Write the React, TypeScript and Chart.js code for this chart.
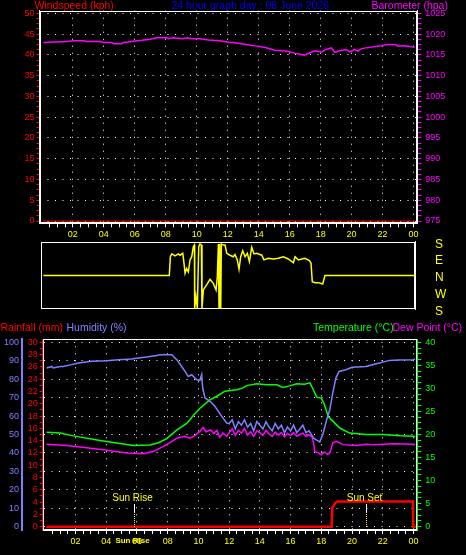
import React, { useEffect, useRef } from 'react';
import { Chart, registerables } from 'chart.js';

Chart.register(...registerables);

// ---------- data ----------
const hourLabels = ['02', '04', '06', '08', '10', '12', '14', '16', '18', '20', '22', '00'];
const compassLabels = ['S', 'W', 'N', 'E', 'S'];

const windHours = [0.1, 24.07];
const windSpeed = [0, 0];

const baroHours = [0.1, 0.85, 1.61, 2.03, 2.68, 2.9, 3.76, 3.97, 4.51, 4.62, 5.16, 5.26, 5.58, 5.91, 6.45, 6.99, 7.42, 8.06, 8.17, 8.49, 9.13, 9.35, 9.68, 10.21, 10.75, 11.5, 12.15, 12.34, 12.99, 13.85, 14.49, 15.04, 15.78, 16.43, 16.97, 17.3, 17.62, 18.07, 18.37, 18.69, 18.91, 19.23, 19.66, 19.88, 20.2, 20.41, 20.63, 21.17, 21.94, 22.27, 22.8, 23.02, 23.34, 23.77, 24.07];
const baroValues = [1018.0, 1018.1, 1018.2, 1018.4, 1018.4, 1018.2, 1018.2, 1018.0, 1018.0, 1017.7, 1017.7, 1018.0, 1018.1, 1018.3, 1018.5, 1018.75, 1019.1, 1019.2, 1018.9, 1019.1, 1018.9, 1019.1, 1018.9, 1018.9, 1018.6, 1018.4, 1018.0, 1018.0, 1017.6, 1017.1, 1016.7, 1016.1, 1015.9, 1015.3, 1014.9, 1015.5, 1016.0, 1015.7, 1016.3, 1016.7, 1015.6, 1016.0, 1016.3, 1015.7, 1016.3, 1015.9, 1016.5, 1016.8, 1017.2, 1017.5, 1017.5, 1017.1, 1017.2, 1017.0, 1016.8];

// wind direction in signed degrees (0 = N, 90 = E, +/-180 = S, -90 = W)
const dirHours = [0.1, 8.23, 8.3, 8.39, 8.6, 8.81, 8.92, 9.1, 9.18, 9.25, 9.35, 9.46, 9.57, 9.68, 9.78, 9.85, 9.87, 9.95, 10.04, 10.13, 10.21, 10.3, 10.34, 10.43, 10.64, 10.86, 11.07, 11.25, 11.33, 11.4, 11.44, 11.48, 11.55, 11.59, 11.72, 11.83, 11.94, 12.15, 12.36, 12.47, 12.62, 12.73, 12.84, 12.97, 13.12, 13.27, 13.4, 13.55, 13.7, 13.87, 14.2, 14.34, 14.62, 14.95, 15.27, 15.59, 15.91, 16.24, 16.35, 16.56, 16.78, 16.99, 17.27, 17.38, 17.46, 17.64, 17.85, 18.13, 18.28, 24.09];
const dirDegrees = [0, 0, 100, 115, 105, 115, 108, 118, 65, 12, 38, 20, 83, 100, 153, 162, -175, -113, -175, 153, 168, 162, -175, -77, -50, -20, -42, -77, -6, 168, -175, 168, -175, 168, 162, 162, 118, 108, 100, 112, 83, 33, 100, 132, 100, 118, 74, 150, 115, 118, 108, 83, 92, 88, 92, 100, 88, 68, 100, 83, 88, 92, 80, 65, -33, -38, -38, -45, 0, 0];

const humHours = [0.12, 0.45, 0.55, 0.99, 1.2, 1.75, 2.18, 3.05, 4.03, 4.79, 5.66, 5.98, 6.63, 7.28, 7.5, 8.26, 8.59, 8.91, 9.13, 9.34, 9.56, 9.89, 10.1, 10.21, 10.28, 10.43, 10.76, 11.08, 11.3, 11.52, 11.84, 12.0, 12.2, 12.4, 12.6, 12.8, 13.0, 13.2, 13.4, 13.6, 13.8, 14.0, 14.2, 14.4, 14.6, 14.8, 15.0, 15.2, 15.4, 15.6, 15.8, 16.0, 16.2, 16.4, 16.6, 16.8, 17.0, 17.2, 17.5, 17.7, 17.9, 18.1, 18.35, 18.55, 18.75, 18.95, 19.15, 19.6, 20.0, 20.9, 21.6, 22.45, 23.0, 24.0, 24.1];
const humValues = [86.1, 86.9, 86.1, 86.9, 86.9, 87.9, 88.8, 89.7, 90.0, 90.6, 91.0, 91.3, 92.0, 92.9, 93.3, 93.3, 90.6, 86.9, 84.2, 81.5, 82.4, 79.7, 79.4, 82.4, 75.2, 69.8, 68.0, 65.2, 62.5, 59.8, 56.2, 56, 58, 53, 57, 55, 58, 54, 56, 52, 57, 55, 53, 57, 54, 52, 56, 53, 55, 51, 54, 52, 55, 51, 53, 55, 51, 52, 48, 47, 46, 50, 58, 63.4, 72.7, 80.6, 84.2, 85.1, 86.5, 86.9, 88.4, 90.2, 90.4, 90.6, 91.0];

const tempHours = [0.12, 1.0, 1.85, 3.6, 5.76, 6.85, 7.4, 7.94, 8.6, 9.24, 9.67, 10.1, 10.75, 11.19, 11.73, 12.5, 12.9, 13.15, 13.8, 14.44, 15.1, 15.5, 16.0, 16.4, 16.9, 17.26, 17.48, 17.7, 18.0, 18.2, 18.45, 18.75, 19.2, 19.85, 20.93, 22.0, 23.1, 24.0, 24.1];
const tempValues = [20.5, 20.3, 19.7, 18.7, 17.6, 17.7, 18.2, 19.1, 21.0, 22.4, 24.1, 25.7, 27.5, 28.3, 29.4, 29.7, 30.1, 30.6, 31.0, 30.8, 30.8, 30.2, 30.6, 31.0, 30.9, 31.2, 29.7, 28.1, 27.9, 26.5, 23.9, 22.9, 21.4, 20.3, 20.0, 20.0, 19.7, 19.6, 19.5];

const dewHours = [0.12, 1.42, 2.72, 4.03, 5.33, 6.41, 7.06, 7.94, 8.6, 9.1, 9.45, 9.8, 10.1, 10.3, 10.5, 10.8, 11.0, 11.2, 11.4, 11.6, 11.85, 12.0, 12.2, 12.4, 12.6, 12.8, 13.0, 13.2, 13.4, 13.6, 13.8, 14.0, 14.2, 14.4, 14.6, 14.8, 15.0, 15.2, 15.4, 15.6, 15.8, 16.0, 16.2, 16.4, 16.6, 16.8, 17.0, 17.2, 17.4, 17.5, 17.58, 17.8, 18.0, 18.2, 18.4, 18.55, 18.75, 18.98, 19.4, 20.3, 20.93, 21.37, 22.7, 24.0, 24.1];
const dewValues = [17.9, 17.6, 17.1, 16.6, 16.0, 15.8, 16.3, 17.8, 19.2, 19.6, 19.2, 19.8, 20.7, 21.5, 20.6, 21.0, 20.2, 20.9, 19.4, 20.3, 19.6, 20.4, 21.2, 19.8, 20.9, 20.3, 21.3, 19.9, 20.6, 19.6, 20.8, 20.4, 19.8, 20.9, 20.1, 19.6, 20.5, 19.9, 20.4, 19.5, 20.2, 19.8, 20.4, 19.6, 20.0, 20.3, 19.6, 19.9, 19.4, 18.2, 16.3, 16.0, 15.6, 16.2, 15.7, 16.0, 18.2, 18.5, 17.8, 17.6, 17.9, 17.8, 18.0, 17.9, 17.9];

const rainHours = [0.1, 18.67, 18.72, 18.8, 18.9, 19.05, 23.97, 23.99, 24.15];
const rainValues = [0, 0, 3.2, 3.4, 3.85, 4.1, 4.1, 0, 0];

const sunLabels = ['Sun Rise', 'Sun Set'];
const sunHours = [5.82, 20.9];

// ---------- helpers ----------
const FONT = "'Liberation Sans', Arial, sans-serif";
const CLEAR = 'rgba(0,0,0,0)';

const pts = (xs: number[], ys: number[]) =>
  xs.slice(0, Math.min(xs.length, ys.length)).map((x, i) => ({ x, y: ys[i] }));

function stepTicks(min: number, max: number, step: number) {
  const out: { value: number }[] = [];
  const s = Math.ceil((min - 1e-9) / step);
  const e = Math.floor((max + 1e-9) / step);
  for (let k = s; k <= e; k++) out.push({ value: +(k * step).toFixed(6) });
  return out;
}
const isMult = (v: number, m: number) => Math.abs(v / m - Math.round(v / m)) < 1e-6;

function hourAxis(min: number, max: number, height: number, show: boolean, dash: number[]) {
  return {
    type: 'linear',
    position: 'bottom',
    min,
    max,
    display: show,
    afterBuildTicks: (s: any) => {
      s.ticks = stepTicks(0.5, 24, 0.5);
    },
    afterFit: (s: any) => {
      s.height = height;
    },
    ticks: {
      color: '#ffff00',
      font: { family: FONT, size: 9 },
      padding: 2,
      autoSkip: false,
      maxRotation: 0,
      minRotation: 0,
      callback: (v: any) => {
        const n = Number(v);
        return isMult(n, 2) && n > 0 ? hourLabels[n / 2 - 1] : '';
      },
    },
    grid: {
      color: (ctx: any) => (ctx.tick && isMult(ctx.tick.value, 2) && ctx.tick.value > 0 ? '#ffffff' : CLEAR),
      tickColor: '#ffffff',
      tickLength: 4,
      lineWidth: 1,
      borderDash: dash,
    },
    border: { display: true, color: '#ffffff', dash },
  };
}

function yAxis(o: any) {
  return {
    type: 'linear',
    position: o.pos,
    min: o.min,
    max: o.max,
    weight: o.weight ?? 0,
    afterBuildTicks: (s: any) => {
      s.ticks = stepTicks(o.min, o.max, o.minor);
    },
    afterFit: (s: any) => {
      s.width = o.width;
    },
    ticks: {
      color: o.color,
      font: { family: FONT, size: o.fontSize ?? 9 },
      padding: o.pad,
      autoSkip: false,
      labelOffset: o.labelOffset ?? 0,
      callback: (v: any) => {
        const n = Number(v);
        if (!isMult(n, o.major)) return '';
        return o.labels ? o.labels(n) : String(Math.round(n));
      },
    },
    grid: {
      drawOnChartArea: !!o.grid,
      drawTicks: o.drawTicks ?? true,
      color: (ctx: any) => (ctx.tick && isMult(ctx.tick.value, o.major) ? '#ffffff' : CLEAR),
      tickColor: o.tickColor ?? o.color,
      tickLength: o.tl,
      lineWidth: 1,
      borderDash: [1, 6.5],
    },
    border: { display: true, color: o.borderColor ?? o.color, width: o.borderWidth ?? 1, dash: [1, 6.5] },
  };
}

const framePlugin = {
  id: 'frame',
  beforeDatasetsDraw(chart: any) {
    const { ctx, chartArea: a } = chart;
    ctx.save();
    ctx.strokeStyle = '#ffffff';
    ctx.lineWidth = 1;
    const l = Math.round(a.left) + 0.5;
    const t = Math.round(a.top) + 0.5;
    const r = Math.round(a.right) - 0.5;
    const b = Math.round(a.bottom) - 0.5;
    ctx.strokeRect(l, t, r - l, b - t);
    ctx.restore();
  },
};

const sunPlugin = {
  id: 'sun',
  afterDatasetsDraw(chart: any) {
    const { ctx, chartArea: a, scales } = chart;
    const b = a.bottom;
    sunHours.forEach((h, i) => {
      const px = Math.round(scales.x.getPixelForValue(h)) + 0.5;
      ctx.save();
      ctx.lineWidth = 1;
      ctx.strokeStyle = '#ffffff';
      ctx.beginPath();
      ctx.moveTo(px, b - 26);
      ctx.lineTo(px, b - 18);
      ctx.stroke();
      ctx.strokeStyle = '#ffff00';
      ctx.setLineDash([1, 1]);
      ctx.beginPath();
      ctx.moveTo(px, b - 18);
      ctx.lineTo(px, b - 3);
      ctx.stroke();
      ctx.fillStyle = '#ffff00';
      ctx.font = `10px ${FONT}`;
      ctx.textAlign = 'center';
      ctx.textBaseline = 'middle';
      ctx.fillText(sunLabels[i], px - 2, b - 32);
      if (i === 0) {
        ctx.font = `bold 8px ${FONT}`;
        ctx.fillText(sunLabels[i], px - 2, b + 11);
      }
      ctx.restore();
    });
  },
};

const baseOptions = {
  responsive: false,
  maintainAspectRatio: false,
  animation: false,
  devicePixelRatio: 1,
  events: [],
  plugins: { legend: { display: false }, tooltip: { enabled: false }, title: { display: false } },
  elements: { point: { radius: 0 }, line: { tension: 0 } },
};

export default function App() {
  const c1 = useRef<HTMLCanvasElement>(null);
  const c2 = useRef<HTMLCanvasElement>(null);
  const c3 = useRef<HTMLCanvasElement>(null);

  useEffect(() => {
    const chart1 = new Chart(c1.current as HTMLCanvasElement, {
      type: 'line',
      data: {
        datasets: [
          { data: pts(windHours, windSpeed), borderColor: '#ff0000', borderWidth: 1, yAxisID: 'wind' },
          { data: pts(baroHours, baroValues), borderColor: '#ff00ff', borderWidth: 1.5, yAxisID: 'baro' },
        ],
      },
      options: {
        ...baseOptions,
        layout: { padding: { top: 10.7, left: 0, right: 0, bottom: 0 } },
        scales: {
          x: hourAxis(-0.148, 24.24, 18.7, true, [1, 6]),
          wind: yAxis({ pos: 'left', min: -0.55, max: 50.63, minor: 1.25, major: 5, color: '#ff0000', borderColor: '#ffffff', width: 39.5, tl: 3, pad: 2, grid: true }),
          baro: yAxis({ pos: 'right', min: 974.45, max: 1025.63, minor: 1.25, major: 5, color: '#ff00ff', borderColor: '#ffffff', width: 48.7, tl: 4, pad: 4 }),
        },
      } as any,
      plugins: [framePlugin],
    } as any);

    const chart2 = new Chart(c2.current as HTMLCanvasElement, {
      type: 'line',
      data: {
        datasets: [{ data: pts(dirHours, dirDegrees), borderColor: '#ffff00', borderWidth: 1.5, yAxisID: 'dir' }],
      },
      options: {
        ...baseOptions,
        layout: { padding: { top: 11.7, left: 40.7, right: 0, bottom: 15.7 } },
        scales: {
          x: { ...hourAxis(-0.07, 24.09, 0, false, [1, 6]) },
          dir: yAxis({ pos: 'right', min: -180, max: 180, minor: 90, major: 90, color: '#ffff00', tickColor: CLEAR, borderColor: '#ffffff', width: 51, tl: 20, pad: 0, fontSize: 12, labelOffset: 2.5, labels: (v: number) => compassLabels[Math.round((v + 180) / 90)] }),
        },
      } as any,
      plugins: [framePlugin],
    } as any);

    const chart3 = new Chart(c3.current as HTMLCanvasElement, {
      type: 'line',
      data: {
        datasets: [
          { data: pts(rainHours, rainValues), borderColor: '#ff0000', borderWidth: 2.5, yAxisID: 'rain' },
          { data: pts(humHours, humValues), borderColor: '#8080ff', borderWidth: 1.5, yAxisID: 'hum' },
          { data: pts(tempHours, tempValues), borderColor: '#00ff00', borderWidth: 1.5, yAxisID: 'temp' },
          { data: pts(dewHours, dewValues), borderColor: '#ff00ff', borderWidth: 1.5, yAxisID: 'temp' },
        ],
      },
      options: {
        ...baseOptions,
        layout: { padding: { top: 24.3, left: 0, right: 0, bottom: 0 } },
        scales: {
          x: hourAxis(-0.137, 24.25, 25, true, [1, 6]),
          hum: yAxis({ pos: 'left', min: -1.79, max: 101.63, minor: 10, major: 10, color: '#8080ff', borderWidth: 2, width: 22, tl: 0, pad: 3, drawTicks: false, grid: true, weight: 1 }),
          rain: yAxis({ pos: 'left', min: -0.54, max: 30.49, minor: 1, major: 2, color: '#ff0000', width: 20.7, tl: 3, pad: 2, weight: 0 }),
          temp: yAxis({ pos: 'right', min: -0.72, max: 40.65, minor: 1.25, major: 5, color: '#00ff00', width: 48.7, tl: 4, pad: 4 }),
        },
      } as any,
      plugins: [framePlugin, sunPlugin],
    } as any);

    return () => {
      chart1.destroy();
      chart2.destroy();
      chart3.destroy();
    };
  }, []);

  const title = (color: string, left: number, top: number): React.CSSProperties => ({
    position: 'absolute',
    left,
    top,
    color,
    fontFamily: FONT,
    fontSize: 10.5,
    lineHeight: '11px',
    whiteSpace: 'nowrap',
  });

  return (
    <div style={{ position: 'fixed', left: 0, top: 0, width: 466, height: 555, background: '#000', overflow: 'hidden' }}>
      <canvas ref={c1} width={466} height={242} style={{ position: 'absolute', left: 0, top: 0, display: 'block' }} />
      <canvas ref={c2} width={466} height={95} style={{ position: 'absolute', left: 0, top: 230, display: 'block' }} />
      <canvas ref={c3} width={466} height={240} style={{ position: 'absolute', left: 0, top: 315, display: 'block' }} />
      <span style={title('#ff0000', 34.5, 0)}>Windspeed (kph)</span>
      <span style={title('#0000ff', 171.5, 0)}>24 hour graph day : 08 June 2026</span>
      <span style={title('#ff00ff', 371.5, 0)}>Barometer (hpa)</span>
      <span style={title('#ff0000', 0.5, 321.5)}>Rainfall (mm)</span>
      <span style={title('#8080ff', 66.5, 321.5)}>Humidity (%)</span>
      <span style={title('#00ff00', 313, 321.5)}>Temperature (°C)</span>
      <span style={title('#ff00ff', 392.5, 321.5)}>Dew Point (°C)</span>
    </div>
  );
}
